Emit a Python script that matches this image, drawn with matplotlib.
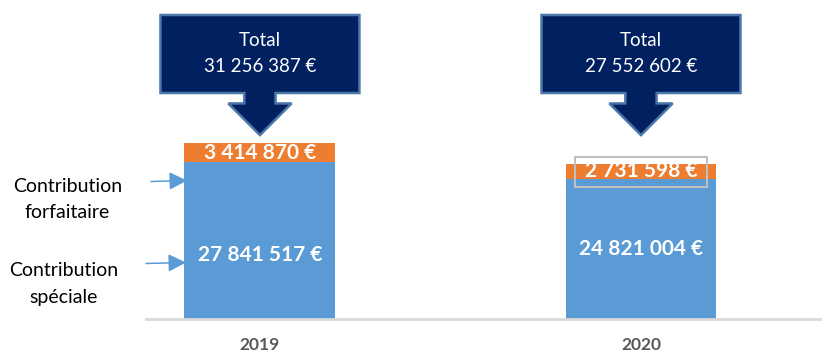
import matplotlib
matplotlib.use("Agg")
import matplotlib.pyplot as plt
from matplotlib.patches import Polygon, Rectangle, FancyArrowPatch

# Contributions per year (euros)
years = ["2019", "2020"]
speciale = [27841517, 24821004]
forfaitaire = [3414870, 2731598]
totals = [31256387, 27552602]

speciale_labels = ["27 841 517 €", "24 821 004 €"]
forfaitaire_labels = ["3 414 870 €", "2 731 598 €"]
total_labels = ["31 256 387 €", "27 552 602 €"]

BLUE = "#5B9BD5"
ORANGE = "#ED7D31"
NAVY = "#002060"
EDGE = "#4A76A8"
FONT = "Lato"

W, H = 822, 354
fig = plt.figure(figsize=(W / 100, H / 100), dpi=100)
base_px = 318.5
ax = fig.add_axes([146 / W, 1 - base_px / H, 1 - 146 / W, base_px / H])

M = 1e6
px_per_m = 5.615  # vertical scale, pixels per million euros
ymax = base_px / px_per_m
ax.set_ylim(0, ymax)
ax.set_xlim(-0.299, 1.475)

x = [0, 1]
bw = 0.396
sp = [v / M for v in speciale]
ff = [v / M for v in forfaitaire]
ax.bar(x, sp, width=bw, color=BLUE, linewidth=0)
ax.bar(x, ff, bottom=sp, width=bw, color=ORANGE, linewidth=0)

# value labels
label_frac = [0.406, 0.5]
for i in x:
    ax.text(i, sp[i] * label_frac[i], speciale_labels[i], color="white",
            ha="center", va="center", fontsize=15, fontweight="bold", family=FONT)
    ax.text(i, sp[i] + ff[i] / 2, forfaitaire_labels[i], color="white",
            ha="center", va="center", fontsize=15, fontweight="bold", family=FONT)

# outline around the 2020 forfaitaire label
ax.add_patch(Rectangle((1 - 0.173, 23.42), 0.346, 5.34, fill=False,
                       edgecolor="#BFBFBF", linewidth=1.5, zorder=5))

# "Total" callouts with downward arrow
box_hw, box_top, box_bot = 0.261, 54.05, 40.16
stem_hw, stem_bot = 0.041, 38.3
head_hw, tip = 0.083, 32.66
for i in x:
    c = x[i]
    pts = [
        (c - box_hw, box_top), (c + box_hw, box_top), (c + box_hw, box_bot),
        (c + stem_hw, box_bot), (c + stem_hw, stem_bot), (c + head_hw, stem_bot),
        (c, tip), (c - head_hw, stem_bot), (c - stem_hw, stem_bot),
        (c - stem_hw, box_bot), (c - box_hw, box_bot),
    ]
    ax.add_patch(Polygon(pts, closed=True, facecolor=NAVY, edgecolor=EDGE,
                         linewidth=1.8, zorder=4, clip_on=False))
    ax.text(c, 49.5, "Total", color="white", ha="center", va="center",
            fontsize=13.5, family=FONT, zorder=6)
    ax.text(c, 44.8, total_labels[i], color="white", ha="center", va="center",
            fontsize=13.5, family=FONT, zorder=6)

# axes styling
for s in ["top", "right", "left"]:
    ax.spines[s].set_visible(False)
ax.spines["bottom"].set_color("#D9D9D9")
ax.spines["bottom"].set_linewidth(2)
ax.set_yticks([])
ax.set_xticks(x)
ax.set_xticklabels(years, fontsize=12.5, fontweight="bold", color="#595959", family=FONT)
ax.tick_params(axis="x", length=0, pad=13)

# series annotations on the left
def fpos(px, py):
    return (px / W, 1 - py / H)

for (px, py, txt) in [(67.5, 187, "Contribution"), (67.5, 213, "forfaitaire"),
                      (64, 270, "Contribution"), (64, 297, "spéciale")]:
    fig.text(*fpos(px, py), txt, ha="center", va="center", fontsize=14,
             family=FONT, color="#000000")

arrow = dict(arrowstyle="-|>,head_length=0.9,head_width=0.45", color=BLUE,
             linewidth=1.1, shrinkA=0, shrinkB=0)
fig.add_artist(FancyArrowPatch(fpos(151, 181.5), fpos(187, 180.5),
                               transform=fig.transFigure, mutation_scale=12, **arrow))
fig.add_artist(FancyArrowPatch(fpos(146, 263.5), fpos(186, 262.5),
                               transform=fig.transFigure, mutation_scale=12, **arrow))

fig.savefig("out.png", dpi=100)
